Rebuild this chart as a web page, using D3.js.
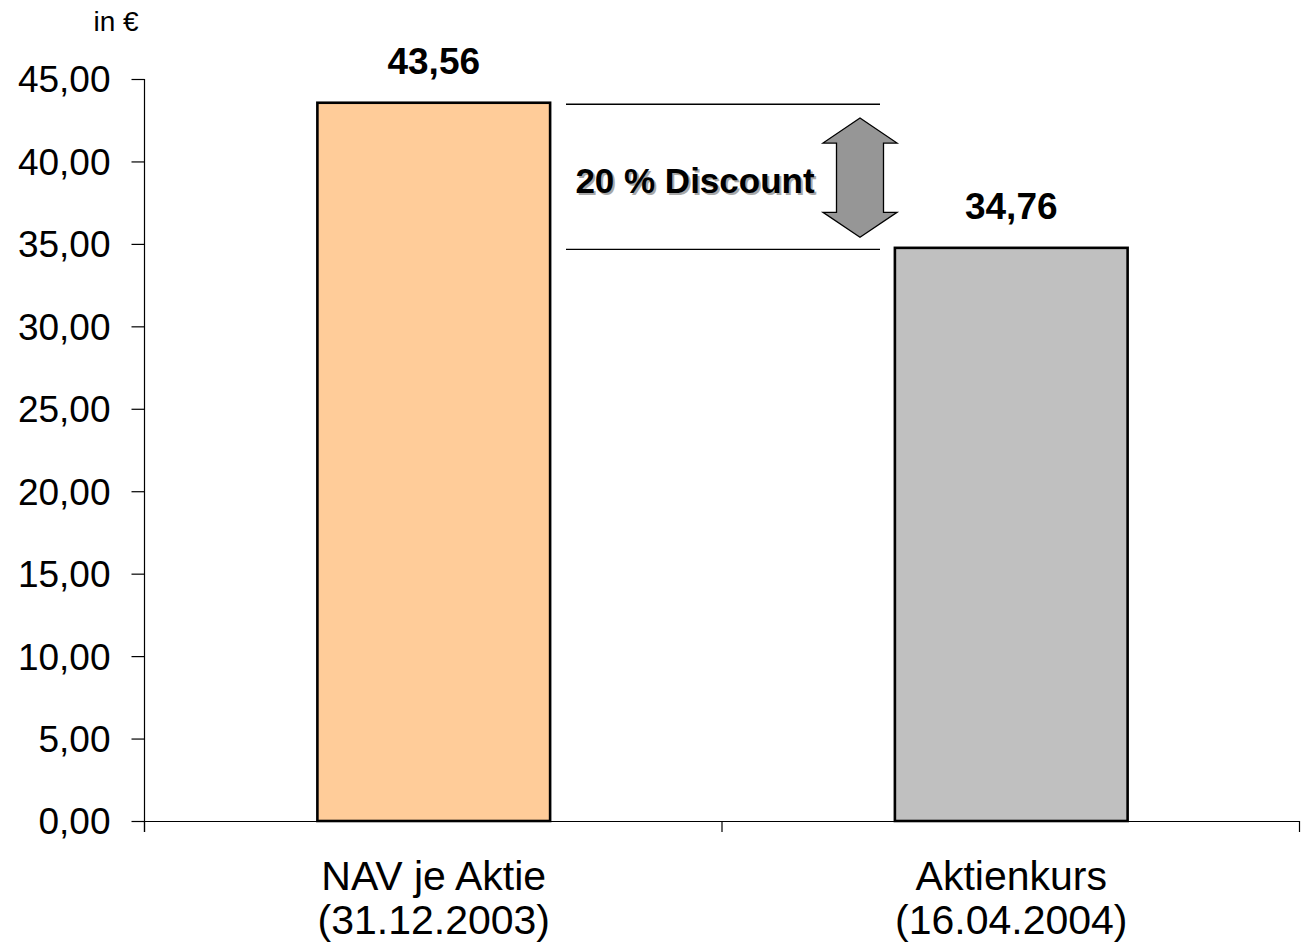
<!DOCTYPE html>
<html>
<head>
<meta charset="utf-8">
<script src="https://cdn.jsdelivr.net/npm/d3@7"></script>
<style>
  html, body { margin: 0; padding: 0; background: #fff; }
  svg { display: block; font-family: "Liberation Sans", Arial, sans-serif; }
</style>
</head>
<body>
<svg id="chart" width="1302" height="946"></svg>
<script>
// Categories (two-line labels) and values in €
const categories = ["NAV je Aktie|(31.12.2003)", "Aktienkurs|(16.04.2004)"];
const values = [43.56, 34.76];
const valueLabels = ["43,56", "34,76"];
const barColors = ["#FFCC99", "#C0C0C0"];
const yTicks = [0, 5, 10, 15, 20, 25, 30, 35, 40, 45];
const discountLabel = "20 % Discount";
// arrow ends (in €) between the two reference lines
const arrowRange = [42.63, 35.4];

const svg = d3.select("#chart");
const plotLeft = 145, plotRight = 1300, plotTop = 79, plotBottom = 821;

const y = d3.scaleLinear().domain([0, 45]).range([plotBottom, plotTop]);
const x = d3.scaleBand().domain(categories).range([plotLeft, plotRight]);
const barW = x.bandwidth() * 0.403;

const fmt = v => d3.format(".2f")(v).replace(".", ",");

// y axis
const yAxis = d3.axisLeft(y).tickValues(yTicks).tickFormat(fmt).tickSize(13).tickSizeOuter(0);
const gy = svg.append("g").attr("transform", `translate(${plotLeft - 0.5},0)`).call(yAxis);
gy.select(".domain").remove();
gy.selectAll("line").attr("stroke", "#000").attr("stroke-width", 1.2);
gy.selectAll("text").attr("font-size", 37).attr("fill", "#000").attr("x", -34).attr("dy", "0.35em")
  .attr("font-family", "'Liberation Sans', Arial, sans-serif");
gy.append("line").attr("x1", 0).attr("x2", 0).attr("y1", plotTop).attr("y2", plotBottom + 11)
  .attr("stroke", "#000").attr("stroke-width", 1.2);

// x axis baseline with category separators
svg.append("line").attr("x1", plotLeft).attr("x2", plotRight).attr("y1", plotBottom + 0.5).attr("y2", plotBottom + 0.5)
  .attr("stroke", "#000").attr("stroke-width", 1.2);
const seps = [plotLeft, plotLeft + x.step(), plotRight];
svg.selectAll(".sep").data(seps).enter().append("line")
  .attr("x1", d => d - 0.5).attr("x2", d => d - 0.5).attr("y1", plotBottom).attr("y2", plotBottom + 11)
  .attr("stroke", "#000").attr("stroke-width", 1.2);

// unit label
svg.append("text").attr("x", 116).attr("y", 31).attr("text-anchor", "middle")
  .attr("font-size", 28).text("in €");

// bars
svg.selectAll(".bar").data(values).enter().append("rect")
  .attr("x", (d, i) => x(categories[i]) + (x.bandwidth() - barW) / 2)
  .attr("y", d => y(d))
  .attr("width", barW)
  .attr("height", d => plotBottom - y(d))
  .attr("fill", (d, i) => barColors[i])
  .attr("stroke", "#000").attr("stroke-width", 2.6);

// value labels
svg.selectAll(".val").data(values).enter().append("text")
  .attr("x", (d, i) => x(categories[i]) + x.bandwidth() / 2)
  .attr("y", d => y(d) - 29)
  .attr("text-anchor", "middle").attr("font-weight", "bold").attr("font-size", 37)
  .text((d, i) => valueLabels[i]);

// category labels (two lines)
categories.forEach(c => {
  const t = svg.append("text").attr("text-anchor", "middle").attr("font-size", 41)
    .attr("x", x(c) + x.bandwidth() / 2);
  c.split("|").forEach((s, j) => {
    t.append("tspan").attr("x", x(c) + x.bandwidth() / 2).attr("y", 890 + j * 44).text(s);
  });
});

// reference lines at both values
const lx1 = 566, lx2 = 880;
values.forEach(v => {
  svg.append("line").attr("x1", lx1).attr("x2", lx2).attr("y1", y(v) + 1.5).attr("y2", y(v) + 1.5)
    .attr("stroke", "#000").attr("stroke-width", 1.3);
});

// double-headed arrow
const ax = 860, headHalf = 37, shaftHalf = 23.5, headLen = 25;
const yt = y(arrowRange[0]), yb = y(arrowRange[1]);
const arrowPts = [
  [ax, yt], [ax + headHalf, yt + headLen], [ax + shaftHalf, yt + headLen],
  [ax + shaftHalf, yb - headLen], [ax + headHalf, yb - headLen], [ax, yb],
  [ax - headHalf, yb - headLen], [ax - shaftHalf, yb - headLen],
  [ax - shaftHalf, yt + headLen], [ax - headHalf, yt + headLen]
];
svg.append("path").attr("d", d3.line()(arrowPts) + "Z")
  .attr("fill", "#969696").attr("stroke", "#000").attr("stroke-width", 1.3)
  .attr("stroke-linejoin", "miter");

// discount label with soft shadow
const dx = 695, dy = 193;
svg.append("text").attr("x", dx + 2).attr("y", dy + 2).attr("text-anchor", "middle")
  .attr("font-weight", "bold").attr("font-size", 35).attr("fill", "#a8a8a8").text(discountLabel);
svg.append("text").attr("x", dx).attr("y", dy).attr("text-anchor", "middle")
  .attr("font-weight", "bold").attr("font-size", 35).attr("fill", "#000").text(discountLabel);
</script>
</body>
</html>
